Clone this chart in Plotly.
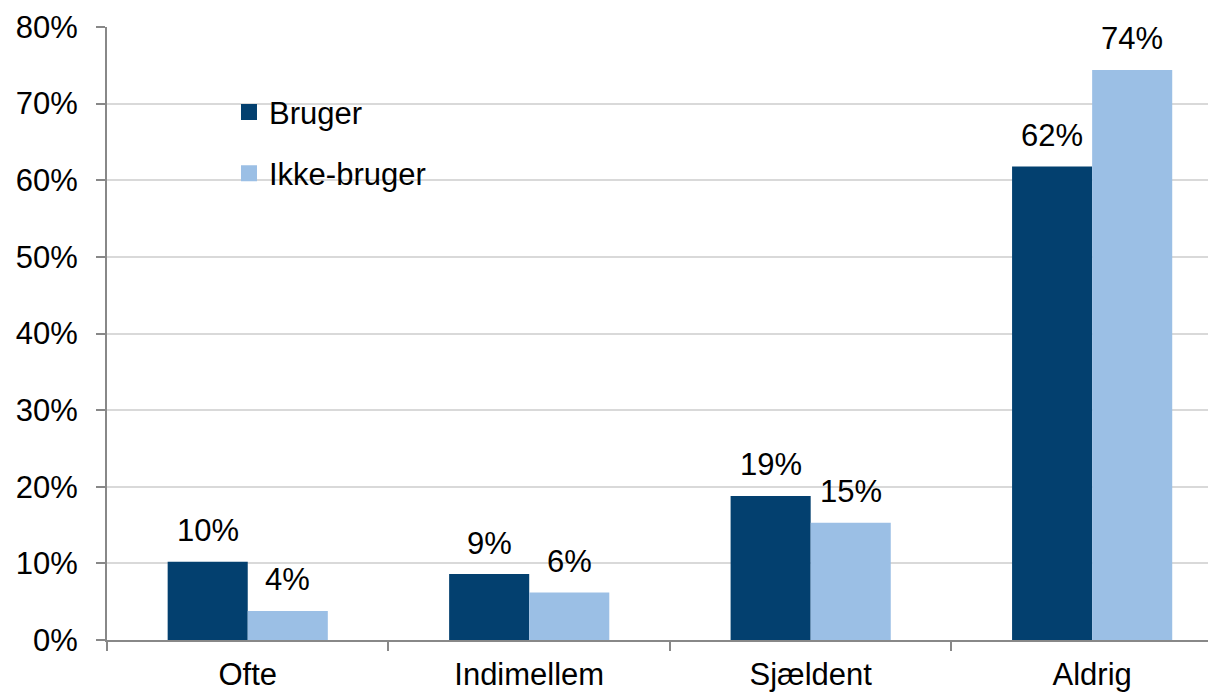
import plotly.graph_objects as go

categories = ["Ofte", "Indimellem", "Sjældent", "Aldrig"]
bruger = [10.2, 8.6, 18.8, 61.8]
ikke_bruger = [3.8, 6.2, 15.3, 74.4]
series_names = ["Bruger", "Ikke-bruger"]
colors = ["#03406F", "#9BBFE5"]
y_ticks = [0, 10, 20, 30, 40, 50, 60, 70, 80]
y_tick_labels = [f"{v}%" for v in y_ticks]

FONT = "Liberation Sans, Arial, sans-serif"
FS = 31

fig = go.Figure()
for name, vals, col in zip(series_names, [bruger, ikke_bruger], colors):
    fig.add_trace(go.Bar(
        x=categories, y=vals, name=name, marker=dict(color=col, line=dict(width=0)),
        showlegend=False, hoverinfo="skip",
    ))
    # legend proxy
    fig.add_trace(go.Scatter(
        x=[None], y=[None], mode="markers", name=name,
        marker=dict(symbol="square", size=17, color=col),
        legendgroup=name, showlegend=True,
    ))

# data labels
for vals, shift in [(bruger, -40), (ikke_bruger, 40)]:
    for c, v in zip(categories, vals):
        fig.add_annotation(
            x=c, y=v, text=f"{round(v)}%", showarrow=False,
            xshift=shift, yshift=31, yanchor="middle",
            font=dict(family=FONT, size=FS, color="#000000"),
        )

fig.update_layout(
    width=1208, height=686,
    margin=dict(l=99, r=0, t=19, b=54),
    paper_bgcolor="white", plot_bgcolor="white",
    barmode="group", bargap=0.431, bargroupgap=0,
    font=dict(family=FONT, size=FS, color="#000000"),
    legend=dict(
        x=0.110, y=0.905, xanchor="left", yanchor="top",
        font=dict(family=FONT, size=FS, color="#000000"),
        traceorder="grouped", tracegroupgap=18,
        bgcolor="rgba(0,0,0,0)", itemwidth=30,
    ),
    showlegend=True,
)
fig.update_xaxes(
    range=[-0.5, 3.44], showline=True, linecolor="#888888", linewidth=2,
    ticks="outside", tickson="boundaries", ticklen=9, tickcolor="#888888", tickwidth=2,
    showgrid=False, ticklabelstandoff=6,
    tickfont=dict(family=FONT, size=FS, color="#000000"),
    fixedrange=True,
)
fig.update_yaxes(
    range=[0, 80], tickvals=y_ticks, ticktext=y_tick_labels,
    showline=True, linecolor="#888888", linewidth=2,
    ticks="outside", ticklen=9, tickcolor="#888888", tickwidth=2,
    showgrid=True, gridcolor="#d9d9d9", gridwidth=1.5, zeroline=False,
    ticklabelstandoff=12,
    tickfont=dict(family=FONT, size=FS, color="#000000"),
    fixedrange=True,
)

fig.write_html("out.html")
